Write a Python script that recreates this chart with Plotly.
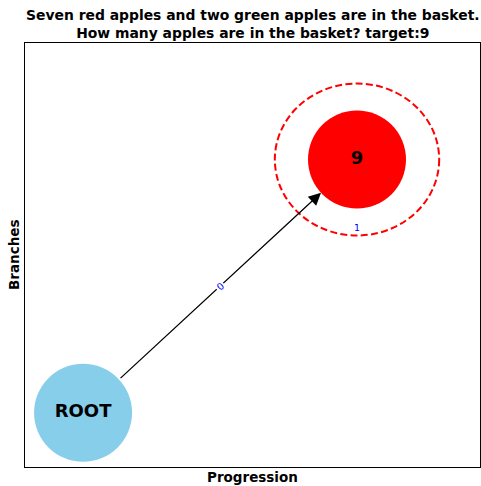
import plotly.graph_objects as go
import math

title_lines = ["Seven red apples and two green apples are in the basket.",
               "How many apples are in the basket? target:9"]
node_labels = ["ROOT", "9"]
node_x = [0.0, 1.0]
node_y = [0.0, 1.0]
node_colors = ["skyblue", "red"]
edge_src = [0]
edge_dst = [1]
edge_labels = ["0"]
target_node = 1
target_label = "1"
x_title = "Progression"
y_title = "Branches"

FONT = "DejaVu Sans"
W, H = 481, 486
ml, mr, mt, mb = 25, 1, 43, 19
pw, ph = W - ml - mr, H - mt - mb
xr = [-0.212, 1.449]
yr = [-0.214, 1.46]
sx = pw / (xr[1] - xr[0])
sy = ph / (yr[1] - yr[0])

fig = go.Figure()

# target ring
tx, ty = node_x[target_node], node_y[target_node]
fig.add_shape(type="circle", xref="x", yref="y",
              x0=tx - 0.3, x1=tx + 0.3, y0=ty - 0.3, y1=ty + 0.3,
              line=dict(color="red", width=2, dash="7px,3.3px"), layer="below")

# edges
for s, d, lab in zip(edge_src, edge_dst, edge_labels):
    fig.add_annotation(x=node_x[d], y=node_y[d], ax=node_x[s], ay=node_y[s],
                       xref="x", yref="y", axref="x", ayref="y", text="",
                       showarrow=True, arrowhead=2, arrowsize=1.9, arrowwidth=1.3,
                       arrowcolor="black", standoff=49, startstandoff=49)
    mx = (node_x[s] + node_x[d]) / 2
    my = (node_y[s] + node_y[d]) / 2
    ang = math.degrees(math.atan2((node_y[d] - node_y[s]) * sy, (node_x[d] - node_x[s]) * sx))
    fig.add_annotation(x=mx, y=my, xref="x", yref="y", text=lab, showarrow=False,
                       textangle=-ang, bgcolor="white", borderpad=1,
                       font=dict(family=FONT, size=9.5, color="blue"))

fig.add_trace(go.Scatter(x=node_x, y=node_y, mode="markers+text", text=node_labels,
                         textposition="middle center",
                         textfont=dict(family=FONT, size=18, color="black", weight="bold"),
                         marker=dict(size=98, color=node_colors, line=dict(width=0)),
                         hoverinfo="skip", showlegend=False))

fig.add_annotation(x=tx, y=ty - 0.269, xref="x", yref="y", text=target_label, showarrow=False,
                   font=dict(family=FONT, size=9.5, color="blue"))

# titles
fig.add_annotation(x=0.5, y=1, xref="paper", yref="paper", yanchor="bottom", yshift=0,
                   text="<b>" + "<br>".join(title_lines) + "</b>", showarrow=False,
                   font=dict(family=FONT, size=13.9, color="black"))
fig.add_annotation(x=0.5, y=0, xref="paper", yref="paper", yanchor="middle", yshift=-10,
                   text="<b>" + x_title + "</b>", showarrow=False,
                   font=dict(family=FONT, size=13.5, color="black"))
fig.add_annotation(x=0, y=0.5, xref="paper", yref="paper", xanchor="center", xshift=-11,
                   text="<b>" + y_title + "</b>", showarrow=False, textangle=-90,
                   font=dict(family=FONT, size=13.5, color="black"))

fig.update_xaxes(range=xr, showticklabels=False, ticks="", showgrid=False, zeroline=False,
                 showline=True, linecolor="black", linewidth=1, mirror=True)
fig.update_yaxes(range=yr, showticklabels=False, ticks="", showgrid=False, zeroline=False,
                 showline=True, linecolor="black", linewidth=1, mirror=True)
fig.update_layout(width=W, height=H, margin=dict(l=ml, r=mr, t=mt, b=mb),
                  plot_bgcolor="white", paper_bgcolor="white")
fig.write_html("out.html", config={"displayModeBar": False},
               post_script="document.body.style.margin='0';document.body.style.overflow='hidden';")
